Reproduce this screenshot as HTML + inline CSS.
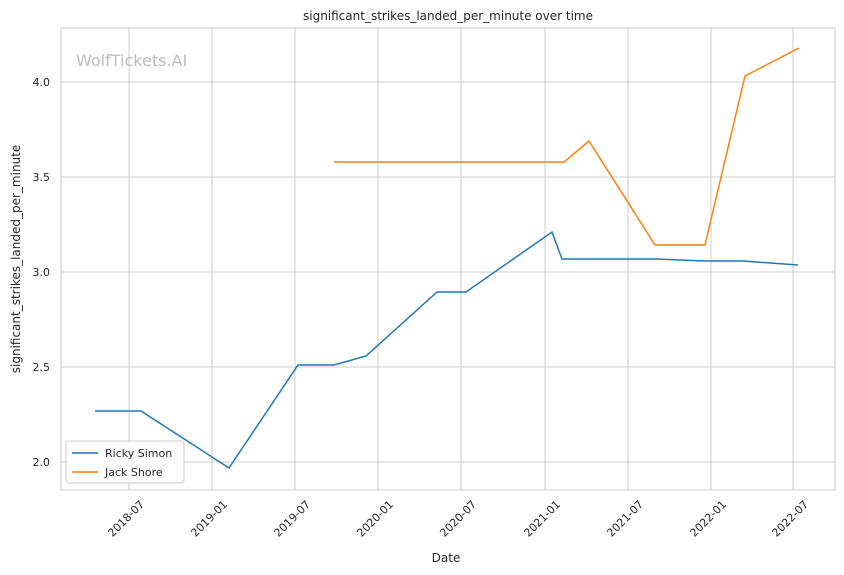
<!DOCTYPE html>
<html><head><meta charset="utf-8"><style>body{margin:0;background:#fff}svg{display:block}text{font-family:"DejaVu Sans","Liberation Sans",sans-serif;fill:#262626}</style></head><body>
<svg width="844" height="575" xmlns="http://www.w3.org/2000/svg">
<rect width="844" height="575" fill="#fff"/>
<g stroke="#cccccc" stroke-width="1">
<line x1="129" y1="28" x2="129" y2="490"/><line x1="212" y1="28" x2="212" y2="490"/><line x1="295" y1="28" x2="295" y2="490"/><line x1="378" y1="28" x2="378" y2="490"/><line x1="461" y1="28" x2="461" y2="490"/><line x1="545" y1="28" x2="545" y2="490"/><line x1="628" y1="28" x2="628" y2="490"/><line x1="711" y1="28" x2="711" y2="490"/><line x1="793" y1="28" x2="793" y2="490"/>
<line x1="61" y1="82" x2="835" y2="82"/><line x1="61" y1="177" x2="835" y2="177"/><line x1="61" y1="272" x2="835" y2="272"/><line x1="61" y1="367" x2="835" y2="367"/><line x1="61" y1="462" x2="835" y2="462"/>
</g>
<rect x="61" y="28" width="774" height="462" fill="none" stroke="#cccccc"/>
<text x="448" y="20" font-size="12" text-anchor="middle">significant_strikes_landed_per_minute over time</text>
<text x="76" y="66" font-size="16" style="fill:#bdbdbd">WolfTickets.AI</text>
<g font-size="11" text-anchor="end">
<text x="50" y="86">4.0</text><text x="50" y="181">3.5</text><text x="50" y="276">3.0</text><text x="50" y="371">2.5</text><text x="50" y="466">2.0</text>
</g>
<g font-size="11" text-anchor="end">
<text transform="translate(145,505) rotate(-45)">2018-07</text>
<text transform="translate(228,505) rotate(-45)">2019-01</text>
<text transform="translate(311,505) rotate(-45)">2019-07</text>
<text transform="translate(394,505) rotate(-45)">2020-01</text>
<text transform="translate(477,505) rotate(-45)">2020-07</text>
<text transform="translate(561,505) rotate(-45)">2021-01</text>
<text transform="translate(644,505) rotate(-45)">2021-07</text>
<text transform="translate(727,505) rotate(-45)">2022-01</text>
<text transform="translate(809,505) rotate(-45)">2022-07</text>
</g>
<text x="446" y="562" font-size="12" text-anchor="middle">Date</text>
<text transform="translate(20,259) rotate(-90)" font-size="12" text-anchor="middle">significant_strikes_landed_per_minute</text>
<polyline fill="none" stroke="#1f77b4" stroke-width="1.5" points="95,411 141,411 229,468 298,365 334,365 366,356 437,292 466,292 552,232 562,259 656,259 705,261 743,261 798,265"/>
<polyline fill="none" stroke="#ff7f0e" stroke-width="1.5" points="334,162 564,162 589,141 655,245 705,245 745,76 799,48"/>
<rect x="66" y="441" width="118" height="42" fill="#fff" stroke="#cccccc" rx="3"/>
<line x1="72" y1="453" x2="98" y2="453" stroke="#1f77b4" stroke-width="1.5"/>
<text x="105" y="457" font-size="11">Ricky Simon</text>
<line x1="72" y1="472" x2="98" y2="472" stroke="#ff7f0e" stroke-width="1.5"/>
<text x="105" y="476" font-size="11">Jack Shore</text>
</svg>
</body></html>
